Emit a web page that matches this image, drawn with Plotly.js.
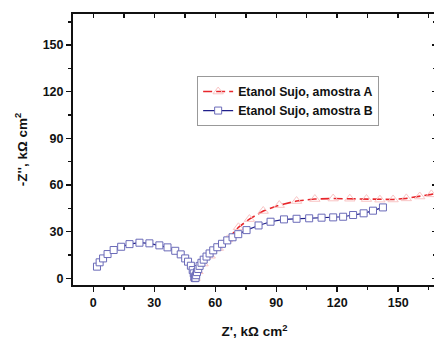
<!DOCTYPE html>
<html><head><meta charset="utf-8">
<script src="https://cdn.plot.ly/plotly-3.0.1.min.js"></script>
<style>html,body{margin:0;padding:0;overflow:hidden;background:#fff}</style>
</head><body><div id="chart"></div>
<script>
const nameA = "Etanol Sujo, amostra A";
const nameB = "Etanol Sujo, amostra B";
const xA = [50.1, 51.5, 54.0, 57.5, 61.5, 66.0, 71.4, 76.8, 83.6, 91.5, 100, 109, 118, 126.2, 134.4, 141, 147.5, 154, 160.6, 166.3, 172];
const yA = [0.2, 4.5, 9.5, 14.5, 19.5, 25.0, 32.8, 38.1, 43.3, 47.1, 49.7, 51.0, 51.3, 51.2, 51.0, 50.6, 50.7, 51.4, 52.6, 54.0, 55.5];
const xB = [1.8, 3.1, 4.8, 7.0, 10.0, 13.7, 17.8, 22.7, 27.6, 32.5, 36.5, 40.3, 43.0, 45.2, 46.6, 48.0, 48.9, 49.4, 49.7, 49.9, 50.1,
            50.3, 50.6, 51.0, 51.6, 52.3, 53.2, 54.3, 55.7, 57.2, 59.0, 61.0, 63.3, 65.9, 68.5, 71.3, 75.4, 81.3, 87.2, 93.8, 100, 106.2, 112.3, 118, 122.9, 127.8, 133, 137.6, 142.5];
const yB = [7.5, 10.3, 12.8, 15.6, 18.2, 20.3, 22.0, 22.9, 22.5, 21.2, 19.9, 17.7, 15.4, 12.8, 10.7, 8.1, 5.3, 3.2, 1.0, 0.2, 0.1,
            0.3, 2.0, 4.0, 6.0, 8.0, 10.0, 12.0, 14.0, 16.0, 18.0, 20.0, 22.2, 24.4, 26.4, 28.4, 31.0, 34.0, 36.4, 37.9, 38.3, 38.6, 39.0, 39.2, 39.6, 40.7, 41.8, 43.5, 45.6];
const xTickVals = [0, 30, 60, 90, 120, 150];
const yTickVals = [0, 30, 60, 90, 120, 150];
const xTitle = "Z', kΩ cm<sup>2</sup>";
const yTitle = "-Z'', kΩ cm<sup>2</sup>";

const tickFont = {family: "Arial, 'Liberation Sans', sans-serif", size: 12.5, color: "#111", weight: "bold"};
const titleFont = {family: "Arial, 'Liberation Sans', sans-serif", size: 13.5, color: "#111", weight: "bold"};

const traces = [
  {x: xA, y: yA, name: nameA, mode: "lines+markers", type: "scatter",
   line: {color: "#e8262b", width: 1.6, dash: "9px,4px"},
   marker: {symbol: "triangle-up-open", size: 9, color: "#f9c4c4", line: {width: 1}}},
  {x: xB, y: yB, name: nameB, mode: "lines+markers", type: "scatter",
   line: {color: "#1f1f8a", width: 1.2},
   marker: {symbol: "square", size: 7, color: "#ffffff", line: {color: "#6a6ab8", width: 1}}},
  {x: [0], y: [0], xaxis: "x2", yaxis: "y2", mode: "markers", marker: {opacity: 0}, showlegend: false, hoverinfo: "skip"}
];

const xr = [-10, 168.6], yr = [-4.3, 170];
const layout = {
  width: 440, height: 341,
  margin: {l: 73, r: 4, t: 14, b: 56},
  paper_bgcolor: "#fff", plot_bgcolor: "#fff",
  showlegend: true,
  legend: {x: 0.342, y: 0.771, xanchor: "left", yanchor: "top",
           bgcolor: "#fff", bordercolor: "#999", borderwidth: 1,
           font: {family: "Arial, 'Liberation Sans', sans-serif", size: 12.3, color: "#111", weight: "bold"},
           tracegroupgap: 0, itemwidth: 30},
  xaxis: {range: xr, tickvals: xTickVals, ticks: "outside", ticklen: 5, tickwidth: 1.5, tickcolor: "#111",
          showline: true, linewidth: 2, linecolor: "#111", showgrid: false, zeroline: false,
          tickfont: tickFont, minor: {dtick: 15, tick0: 0, ticks: "outside", ticklen: 3, tickwidth: 1.5, tickcolor: "#111"},
          title: {text: xTitle, font: titleFont, standoff: 18}},
  yaxis: {range: yr, tickvals: yTickVals, ticks: "outside", ticklen: 5, tickwidth: 1.5, tickcolor: "#111",
          showline: true, linewidth: 2, linecolor: "#111", showgrid: false, zeroline: false,
          tickfont: tickFont, minor: {dtick: 15, tick0: 0, ticks: "outside", ticklen: 3, tickwidth: 1.5, tickcolor: "#111"},
          title: {text: yTitle, font: titleFont, standoff: 12}},
  xaxis2: {range: xr, overlaying: "x", side: "top", anchor: "y2", tickvals: xTickVals, ticks: "inside", ticklen: 4, tickwidth: 1.5, tickcolor: "#111",
           showticklabels: false, showline: true, linewidth: 2, linecolor: "#111", showgrid: false, zeroline: false,
           minor: {dtick: 15, tick0: 0, ticks: "inside", ticklen: 4, tickwidth: 1.5, tickcolor: "#111"}},
  yaxis2: {range: yr, overlaying: "y", side: "right", anchor: "x2", tickvals: yTickVals, ticks: "inside", ticklen: 4, tickwidth: 1.5, tickcolor: "#111",
           showticklabels: false, showline: true, linewidth: 2, linecolor: "#111", showgrid: false, zeroline: false,
           minor: {dtick: 15, tick0: 0, ticks: "inside", ticklen: 3, tickwidth: 1.5, tickcolor: "#111"}}
};
Plotly.newPlot("chart", traces, layout, {displayModeBar: false, staticPlot: true});
</script></body></html>
